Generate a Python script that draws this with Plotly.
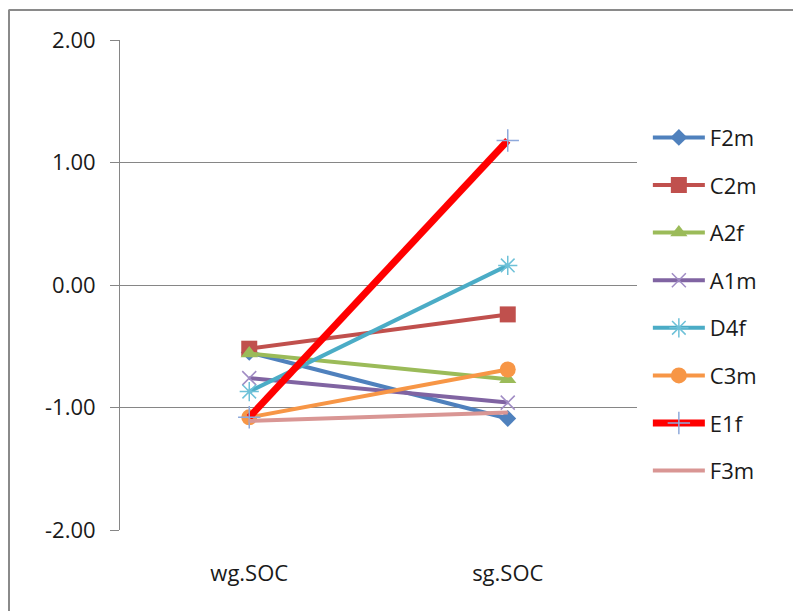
import plotly.graph_objects as go

categories = ["wg.SOC", "sg.SOC"]
series_names = ["F2m", "C2m", "A2f", "A1m", "D4f", "C3m", "E1f", "F3m"]
F2m = [-0.55, -1.09]
C2m = [-0.52, -0.24]
A2f = [-0.56, -0.77]
A1m = [-0.76, -0.96]
D4f = [-0.87, 0.16]
C3m = [-1.08, -0.69]
E1f = [-1.08, 1.18]
F3m = [-1.11, -1.04]
y_ticks = [-2, -1, 0, 1, 2]
y_tick_labels = ["-2.00", "-1.00", "0.00", "1.00", "2.00"]

values = [F2m, C2m, A2f, A1m, D4f, C3m, E1f, F3m]
styles = [
    dict(color="#4F81BD", width=4, symbol="diamond", msize=13, mcolor="#4F81BD", mline=0),
    dict(color="#C0504D", width=4, symbol="square", msize=16, mcolor="#C0504D", mline=0),
    dict(color="#9BBB59", width=4, symbol="triangle-up", msize=15, mcolor="#9BBB59", mline=0),
    dict(color="#8064A2", width=4, symbol="x-thin-open", msize=14, mcolor="#A08CC4", mline=1.5),
    dict(color="#4BACC6", width=4, symbol="asterisk-open", msize=16, mcolor="#6EC1D8", mline=1.5),
    dict(color="#F79646", width=4, symbol="circle", msize=16, mcolor="#F79646", mline=0),
    dict(color="#FF0000", width=7, symbol="cross-thin-open", msize=16, mcolor="#8EA9DB", mline=1.5),
    dict(color="#D99694", width=4, symbol="line-ew-open", msize=1, mcolor="#D99694", mline=0),
]

# page has an 8px body margin; plot area at page x 120..637, y 40..530
L, T, PW, PH = 112, 32, 517, 490
xpos = list(range(len(categories)))
fig = go.Figure()
for name, vals, st in zip(series_names, values, styles):
    fig.add_trace(go.Scatter(
        x=xpos, y=vals, name=name, legendgroup=name,
        mode="lines+markers",
        line=dict(color=st["color"], width=st["width"]),
        marker=dict(symbol=st["symbol"], size=st["msize"], color=st["mcolor"],
                    line=dict(color=st["mcolor"], width=st["mline"])),
    ))

fig.update_layout(
    width=801, height=611,
    margin=dict(l=L, r=801 - L - PW, t=T, b=611 - T - PH),
    paper_bgcolor="white", plot_bgcolor="white",
    font=dict(family="Open Sans, Noto Sans, sans-serif", size=22, color="#1a1a1a"),
    showlegend=True,
    legend=dict(x=1.021, xanchor="left", y=0.86 - 8 / PH, yanchor="top",
                itemwidth=52, tracegroupgap=16, font=dict(size=22),
                bgcolor="rgba(0,0,0,0)"),
    xaxis=dict(range=[-0.5, 1.5], tickvals=xpos, ticktext=categories,
               showgrid=False, zeroline=False, showline=False, ticks="",
               ticklabelstandoff=28, fixedrange=True),
    yaxis=dict(range=[-2, 2], tickvals=y_ticks, ticktext=y_tick_labels,
               showgrid=True, gridcolor="#868686", gridwidth=1,
               zeroline=False, showline=True, linecolor="#868686", linewidth=1,
               ticks="outside", ticklen=9, tickcolor="#868686",
               ticklabelstandoff=10, fixedrange=True),
    shapes=[
        dict(type="line", xref="paper", yref="paper",
             x0=(0.5 - L) / PW, x1=(820 - L) / PW,
             y0=(T + PH - 2) / PH, y1=(T + PH - 2) / PH,
             line=dict(color="#8a8a8a", width=2)),
        dict(type="line", xref="paper", yref="paper",
             x0=(1 - L) / PW, x1=(1 - L) / PW,
             y0=(T + PH - 2) / PH, y1=(T + PH - 640) / PH,
             line=dict(color="#8a8a8a", width=2)),
    ],
)

fig.write_html("out.html")
